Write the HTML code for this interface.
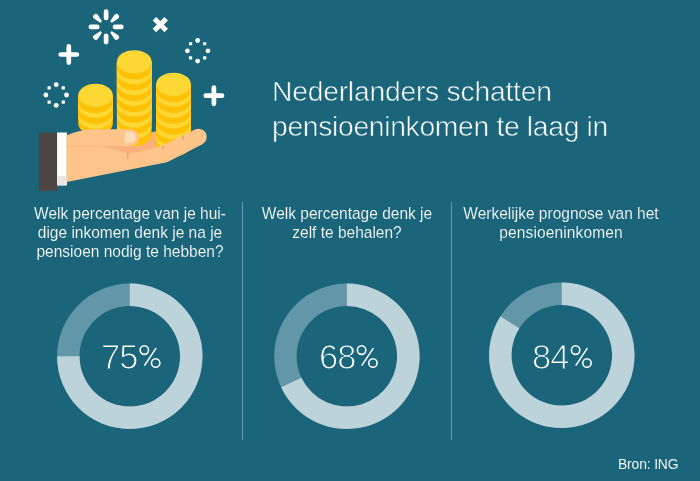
<!DOCTYPE html>
<html><head><meta charset="utf-8">
<style>
html,body{margin:0;padding:0;}
body{width:700px;height:481px;background:#1b657b;position:relative;overflow:hidden;font-family:"Liberation Sans",sans-serif;color:#fff;}
.title{position:absolute;left:272px;top:74px;font-size:28.3px;line-height:35px;letter-spacing:-0.24px;color:#fff;white-space:nowrap;-webkit-text-stroke:0.6px #1b657b;}
.q{position:absolute;top:203.5px;font-size:15.5px;line-height:18.1px;text-align:center;color:#fff;white-space:nowrap;transform:scaleY(1.06);transform-origin:50% 0;-webkit-text-stroke:0.15px #1b657b;}
.q span{display:block;}
.vl{position:absolute;top:202px;height:238px;width:1px;background:#6499a8;}
.pct{position:absolute;top:339px;font-size:34.5px;line-height:36px;letter-spacing:-1px;color:#fff;white-space:nowrap;-webkit-text-stroke:1.1px #1b657b;}
.src{position:absolute;left:618px;top:456.2px;font-size:13.9px;letter-spacing:-0.15px;line-height:16px;color:#eef4f6;white-space:nowrap;}
svg{position:absolute;left:0;top:0;}
.title,.q,.pct,.src{will-change:transform;}
</style></head><body>
<svg width="700" height="481" viewBox="0 0 700 481">
<path fill-rule="evenodd" fill="#6297a7" d="M57.10000000000001 356.3A72.7 72.7 0 1 0 202.5 356.3A72.7 72.7 0 1 0 57.10000000000001 356.3ZM79.50000000000001 356.3A50.3 50.3 0 1 0 180.10000000000002 356.3A50.3 50.3 0 1 0 79.50000000000001 356.3Z"/><path d="M129.80 283.60A72.7 72.7 0 1 1 57.10 356.30L79.50 356.30A50.3 50.3 0 1 0 129.80 306.00Z" fill="#bdd3da"/>
<path fill-rule="evenodd" fill="#6297a7" d="M274.2 356.3A72.7 72.7 0 1 0 419.59999999999997 356.3A72.7 72.7 0 1 0 274.2 356.3ZM296.59999999999997 356.3A50.3 50.3 0 1 0 397.2 356.3A50.3 50.3 0 1 0 296.59999999999997 356.3Z"/><path d="M346.90 283.60A72.7 72.7 0 1 1 281.12 387.25L301.39 377.72A50.3 50.3 0 1 0 346.90 306.00Z" fill="#bdd3da"/>
<path fill-rule="evenodd" fill="#6297a7" d="M489.09999999999997 355.3A72.7 72.7 0 1 0 634.5 355.3A72.7 72.7 0 1 0 489.09999999999997 355.3ZM511.49999999999994 355.3A50.3 50.3 0 1 0 612.0999999999999 355.3A50.3 50.3 0 1 0 511.49999999999994 355.3Z"/><path d="M561.80 282.60A72.7 72.7 0 1 1 500.42 316.35L519.33 328.35A50.3 50.3 0 1 0 561.80 305.00Z" fill="#bdd3da"/>
<g transform="translate(0.00 0)" fill="none" stroke="#fff" stroke-width="1.6"><ellipse cx="144.3" cy="350.1" rx="4.2" ry="4.3"/><ellipse cx="155.65" cy="363" rx="4.2" ry="4.3"/><path d="M156.1 348.2L144.4 365.6" stroke-width="1.5"/></g>
<g transform="translate(217.30 0)" fill="none" stroke="#fff" stroke-width="1.6"><ellipse cx="144.3" cy="350.1" rx="4.2" ry="4.3"/><ellipse cx="155.65" cy="363" rx="4.2" ry="4.3"/><path d="M156.1 348.2L144.4 365.6" stroke-width="1.5"/></g>
<g transform="translate(431.30 0)" fill="none" stroke="#fff" stroke-width="1.6"><ellipse cx="144.3" cy="350.1" rx="4.2" ry="4.3"/><ellipse cx="155.65" cy="363" rx="4.2" ry="4.3"/><path d="M156.1 348.2L144.4 365.6" stroke-width="1.5"/></g>
<path d="M106.10 18.00L106.10 11.70" stroke="#fff" stroke-width="4.7" stroke-linecap="round"/><path transform="translate(106.1 26.9) rotate(45)" d="M-1.3 -8A1.3 1.3 0 0 0 1.3 -8L2.7 -14.5A2.7 2.7 0 0 0 -2.7 -14.5Z" fill="#fff"/><path d="M115.00 26.90L121.30 26.90" stroke="#fff" stroke-width="4.7" stroke-linecap="round"/><path transform="translate(106.1 26.9) rotate(135)" d="M-1.3 -8A1.3 1.3 0 0 0 1.3 -8L2.7 -14.5A2.7 2.7 0 0 0 -2.7 -14.5Z" fill="#fff"/><path d="M106.10 35.80L106.10 42.10" stroke="#fff" stroke-width="4.7" stroke-linecap="round"/><path transform="translate(106.1 26.9) rotate(225)" d="M-1.3 -8A1.3 1.3 0 0 0 1.3 -8L2.7 -14.5A2.7 2.7 0 0 0 -2.7 -14.5Z" fill="#fff"/><path d="M97.20 26.90L90.90 26.90" stroke="#fff" stroke-width="4.7" stroke-linecap="round"/><path transform="translate(106.1 26.9) rotate(315)" d="M-1.3 -8A1.3 1.3 0 0 0 1.3 -8L2.7 -14.5A2.7 2.7 0 0 0 -2.7 -14.5Z" fill="#fff"/>
<path d="M154.4 18.7L166.2 30.5M166.2 18.7L154.4 30.5" stroke="#fff" stroke-width="4.9" fill="none"/>
<path d="M60.699999999999996 54.5H76.89999999999999M68.8 46.4V62.6" stroke="#fff" stroke-width="4.7" stroke-linecap="round" fill="none"/>
<path d="M205.8 95.7H222.0M213.9 87.60000000000001V103.8" stroke="#fff" stroke-width="4.7" stroke-linecap="round" fill="none"/>
<circle cx="197.65" cy="40.50" r="2.4" fill="#fff"/><rect x="203.12" y="42.13" width="3.2" height="3.2" rx="0.4" fill="#fff"/><circle cx="207.95" cy="50.80" r="2.4" fill="#fff"/><rect x="203.12" y="56.27" width="3.2" height="3.2" rx="0.4" fill="#fff"/><circle cx="197.65" cy="61.10" r="2.4" fill="#fff"/><rect x="188.98" y="56.27" width="3.2" height="3.2" rx="0.4" fill="#fff"/><circle cx="187.35" cy="50.80" r="2.4" fill="#fff"/><rect x="188.98" y="42.13" width="3.2" height="3.2" rx="0.4" fill="#fff"/>
<circle cx="56.20" cy="84.70" r="2.4" fill="#fff"/><rect x="61.67" y="86.33" width="3.2" height="3.2" rx="0.4" fill="#fff"/><circle cx="66.50" cy="95.00" r="2.4" fill="#fff"/><rect x="61.67" y="100.47" width="3.2" height="3.2" rx="0.4" fill="#fff"/><circle cx="56.20" cy="105.30" r="2.4" fill="#fff"/><rect x="47.53" y="100.47" width="3.2" height="3.2" rx="0.4" fill="#fff"/><circle cx="45.90" cy="95.00" r="2.4" fill="#fff"/><rect x="47.53" y="86.33" width="3.2" height="3.2" rx="0.4" fill="#fff"/>
<path d="M100 140L139 130L150.8 132.4L156.3 131L188 131L188 140L165 155L100 155Z" fill="#fab07a"/>
<path d="M78.25 95.40L78.25 123.30A17.3 11.6 0 0 0 112.85 123.30L112.85 95.40Z" fill="#ffc107"/><path d="M78.25 95.40L78.25 117.10A17.3 11.6 0 0 0 112.85 117.10L112.85 95.40Z" fill="#fdd835"/><path d="M78.25 95.40L78.25 112.45A17.3 11.6 0 0 0 112.85 112.45L112.85 95.40Z" fill="#ffc107"/><path d="M78.25 95.40L78.25 106.25A17.3 11.6 0 0 0 112.85 106.25L112.85 95.40Z" fill="#fdd835"/><path d="M78.25 95.40L78.25 101.60A17.3 11.6 0 0 0 112.85 101.60L112.85 95.40Z" fill="#ffc107"/><ellipse cx="95.55" cy="95.4" rx="17.3" ry="11.6" fill="#fdd835"/>
<path d="M116.95 61.75L116.95 134.50A17.3 11.6 0 0 0 151.55 134.50L151.55 61.75Z" fill="#ffc107"/><path d="M116.95 61.75L116.95 126.85A17.3 11.6 0 0 0 151.55 126.85L151.55 61.75Z" fill="#fdd835"/><path d="M116.95 61.75L116.95 122.20A17.3 11.6 0 0 0 151.55 122.20L151.55 61.75Z" fill="#ffc107"/><path d="M116.95 61.75L116.95 116.00A17.3 11.6 0 0 0 151.55 116.00L151.55 61.75Z" fill="#fdd835"/><path d="M116.95 61.75L116.95 111.35A17.3 11.6 0 0 0 151.55 111.35L151.55 61.75Z" fill="#ffc107"/><path d="M116.95 61.75L116.95 105.15A17.3 11.6 0 0 0 151.55 105.15L151.55 61.75Z" fill="#fdd835"/><path d="M116.95 61.75L116.95 100.50A17.3 11.6 0 0 0 151.55 100.50L151.55 61.75Z" fill="#ffc107"/><path d="M116.95 61.75L116.95 94.30A17.3 11.6 0 0 0 151.55 94.30L151.55 61.75Z" fill="#fdd835"/><path d="M116.95 61.75L116.95 89.65A17.3 11.6 0 0 0 151.55 89.65L151.55 61.75Z" fill="#ffc107"/><path d="M116.95 61.75L116.95 83.45A17.3 11.6 0 0 0 151.55 83.45L151.55 61.75Z" fill="#fdd835"/><path d="M116.95 61.75L116.95 78.80A17.3 11.6 0 0 0 151.55 78.80L151.55 61.75Z" fill="#ffc107"/><path d="M116.95 61.75L116.95 72.60A17.3 11.6 0 0 0 151.55 72.60L151.55 61.75Z" fill="#fdd835"/><path d="M116.95 61.75L116.95 67.95A17.3 11.6 0 0 0 151.55 67.95L151.55 61.75Z" fill="#ffc107"/><ellipse cx="134.25" cy="61.75" rx="17.3" ry="11.6" fill="#fdd835"/>
<path d="M156.25 84.30L156.25 144.75A17.3 11.6 0 0 0 190.85 144.75L190.85 84.30Z" fill="#ffc107"/><path d="M156.25 84.30L156.25 138.55A17.3 11.6 0 0 0 190.85 138.55L190.85 84.30Z" fill="#fdd835"/><path d="M156.25 84.30L156.25 133.90A17.3 11.6 0 0 0 190.85 133.90L190.85 84.30Z" fill="#ffc107"/><path d="M156.25 84.30L156.25 127.70A17.3 11.6 0 0 0 190.85 127.70L190.85 84.30Z" fill="#fdd835"/><path d="M156.25 84.30L156.25 123.05A17.3 11.6 0 0 0 190.85 123.05L190.85 84.30Z" fill="#ffc107"/><path d="M156.25 84.30L156.25 116.85A17.3 11.6 0 0 0 190.85 116.85L190.85 84.30Z" fill="#fdd835"/><path d="M156.25 84.30L156.25 112.20A17.3 11.6 0 0 0 190.85 112.20L190.85 84.30Z" fill="#ffc107"/><path d="M156.25 84.30L156.25 106.00A17.3 11.6 0 0 0 190.85 106.00L190.85 84.30Z" fill="#fdd835"/><path d="M156.25 84.30L156.25 101.35A17.3 11.6 0 0 0 190.85 101.35L190.85 84.30Z" fill="#ffc107"/><path d="M156.25 84.30L156.25 95.15A17.3 11.6 0 0 0 190.85 95.15L190.85 84.30Z" fill="#fdd835"/><path d="M156.25 84.30L156.25 90.50A17.3 11.6 0 0 0 190.85 90.50L190.85 84.30Z" fill="#ffc107"/><ellipse cx="173.55" cy="84.3" rx="17.3" ry="11.6" fill="#fdd835"/>
<rect x="38.8" y="132.5" width="18.3" height="58.5" fill="#4b4643"/>
<rect x="57.1" y="132.5" width="9.8" height="52.9" fill="#ffffff"/>
<rect x="57.5" y="175.7" width="8.4" height="9.7" fill="#e6e6e6"/>
<path d="M66.5 135.4 C72 133.4 80 130.6 88 129.6 C92 129.2 95 129.2 97.4 129.2 L130.7 129.2 A8.4 8.4 0 0 1 130.7 146 L100 146.3 C110 148 118 150.5 127.7 153 C140 152.5 152 149 163.3 144.96 L195.05 129.45 A8.3 8.3 0 0 1 202.35 144.35 L168.5 161.4 Q166.6 162.3 164.5 162.8 L66.5 181.9 Z" fill="#fec48a"/>
<path d="M124.9 132H130.3A5.45 5.45 0 0 1 130.3 142.9H124.9Z" fill="#fedcba"/>
<path d="M66.9 146.3H100" stroke="#fab07a" stroke-width="0.8" fill="none"/>
<path d="M127.7 152.5V158.3M162.9 145.8V148.6M183.2 136.2V139.2" stroke="#f7a66c" stroke-width="1.8" stroke-linecap="round" fill="none"/>
</svg>
<div class="title">Nederlanders schatten<br><span style="letter-spacing:-0.33px">pensioeninkomen te laag in</span></div>
<div class="q" style="left:30px;width:200px;"><span>Welk percentage van je hui-</span><span>dige inkomen denk je na je</span><span style="margin-top:-0.6px">pensioen nodig te hebben?</span></div>
<div class="q" style="left:247px;width:200px;"><span>Welk percentage denk je</span><span>zelf te behalen?</span></div>
<div class="q" style="left:461px;width:200px;"><span>Werkelijke prognose van het</span><span style="letter-spacing:0.12px">pensioeninkomen</span></div>
<div class="vl" style="left:242px"></div>
<div class="vl" style="left:451px"></div>
<div class="pct" style="left:101px">75</div>
<div class="pct" style="left:319px">68</div>
<div class="pct" style="left:532px">84</div>
<div class="src">Bron: ING</div>
</body></html>
